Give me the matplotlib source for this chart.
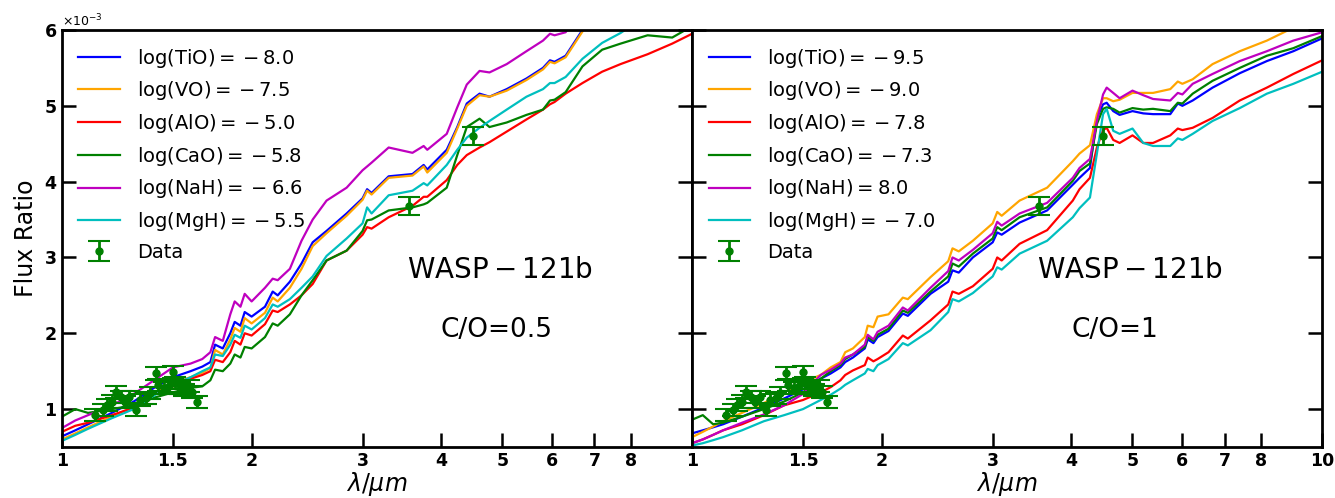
import matplotlib
matplotlib.use("Agg")
import matplotlib.pyplot as plt
import numpy as np

# ---- left panel, C/O = 0.5 (flux ratio in units of 1e-3) ----
wl_a = [1.0, 1.05, 1.1, 1.2, 1.3, 1.4, 1.5, 1.6, 1.67, 1.72, 1.75, 1.8, 1.85, 1.88,
        1.92, 1.95, 2.0, 2.1, 2.16, 2.2, 2.3, 2.4, 2.5, 2.63, 2.83, 3.0, 3.05, 3.1,
        3.3, 3.6, 3.75, 3.8, 4.08, 4.24, 4.39, 4.6, 4.77, 5.08, 5.46, 5.8, 5.95,
        6.05, 6.3, 6.7, 7.2, 7.7, 8.5, 9.3, 10.0]
tio_a = [0.64, 0.72, 0.80, 0.95, 1.10, 1.28, 1.42, 1.50, 1.56, 1.62, 1.85, 1.80, 2.00, 2.15,
         2.10, 2.28, 2.22, 2.35, 2.55, 2.50, 2.68, 2.92, 3.20, 3.35, 3.58, 3.78, 3.90, 3.85,
         4.07, 4.10, 4.22, 4.16, 4.42, 4.72, 5.03, 5.16, 5.12, 5.22, 5.36, 5.50, 5.60,
         5.58, 5.66, 6.00, 6.30, 6.50, 6.80, 7.00, 7.20]
vo_a = [0.60, 0.68, 0.76, 0.90, 1.03, 1.20, 1.35, 1.42, 1.48, 1.54, 1.78, 1.72, 1.92, 2.07,
        2.02, 2.20, 2.13, 2.27, 2.47, 2.42, 2.60, 2.85, 3.15, 3.32, 3.55, 3.76, 3.88, 3.83,
        4.05, 4.08, 4.20, 4.12, 4.38, 4.70, 5.00, 5.14, 5.12, 5.20, 5.34, 5.48, 5.58,
        5.56, 5.64, 5.98, 6.30, 6.50, 6.80, 7.00, 7.20]
alo_a = [0.70, 0.78, 0.82, 0.92, 1.02, 1.20, 1.30, 1.40, 1.45, 1.50, 1.65, 1.62, 1.75, 1.90,
         1.85, 2.00, 1.97, 2.12, 2.30, 2.28, 2.38, 2.50, 2.65, 2.96, 3.09, 3.30, 3.40, 3.38,
         3.53, 3.68, 3.80, 3.80, 4.02, 4.22, 4.35, 4.45, 4.52, 4.66, 4.82, 4.95, 5.02,
         5.05, 5.16, 5.30, 5.45, 5.55, 5.68, 5.82, 5.95]
cao_a = [0.90, 1.00, 0.95, 1.00, 1.05, 1.15, 1.22, 1.28, 1.30, 1.38, 1.52, 1.50, 1.60, 1.72,
         1.68, 1.82, 1.80, 1.95, 2.13, 2.10, 2.25, 2.50, 2.70, 2.96, 3.09, 3.35, 3.49, 3.50,
         3.62, 3.66, 3.70, 3.72, 3.92, 4.35, 4.72, 4.83, 4.72, 4.78, 4.88, 4.95, 5.07,
         5.08, 5.18, 5.52, 5.74, 5.82, 5.93, 5.90, 6.05]
nah_a = [0.75, 0.85, 0.92, 1.05, 1.20, 1.38, 1.55, 1.60, 1.66, 1.75, 1.95, 1.90, 2.25, 2.42,
         2.35, 2.52, 2.42, 2.60, 2.72, 2.70, 2.85, 3.22, 3.50, 3.75, 3.92, 4.15, 4.20, 4.25,
         4.45, 4.38, 4.47, 4.42, 4.63, 4.98, 5.28, 5.46, 5.44, 5.55, 5.72, 5.86, 5.95,
         5.93, 5.97, 6.30, 6.60, 6.80, 7.10, 7.30, 7.50]
mgh_a = [0.58, 0.66, 0.74, 0.88, 1.00, 1.18, 1.32, 1.42, 1.50, 1.55, 1.72, 1.70, 1.85, 1.98,
         1.94, 2.10, 2.05, 2.20, 2.38, 2.35, 2.45, 2.60, 2.75, 3.02, 3.25, 3.45, 3.66, 3.58,
         3.82, 3.88, 3.98, 3.95, 4.22, 4.42, 4.58, 4.71, 4.80, 4.95, 5.12, 5.22, 5.30,
         5.30, 5.38, 5.62, 5.83, 5.96, 6.20, 6.40, 6.60]

# ---- right panel, C/O = 1 ----
wl_b = [1.0, 1.04, 1.08, 1.12, 1.2, 1.3, 1.4, 1.5, 1.6, 1.66, 1.72, 1.75, 1.8, 1.88, 1.9,
        1.94, 1.97, 2.05, 2.16, 2.2, 2.39, 2.55, 2.59, 2.65, 2.79, 3.0, 3.05, 3.1, 3.31,
        3.66, 4.02, 4.12, 4.28, 4.39, 4.49, 4.55, 4.66, 4.77, 5.0, 5.2, 5.39, 5.74, 5.9,
        6.0, 6.23, 6.7, 7.4, 8.17, 9.0, 10.0]
tio_b = [0.68, 0.72, 0.76, 0.80, 0.90, 1.02, 1.14, 1.26, 1.40, 1.47, 1.55, 1.62, 1.68, 1.80, 1.92,
         1.87, 1.95, 2.03, 2.26, 2.23, 2.52, 2.68, 2.83, 2.80, 3.00, 3.20, 3.33, 3.30, 3.46,
         3.62, 3.96, 4.05, 4.18, 4.84, 5.02, 5.04, 4.93, 4.88, 4.93, 4.90, 4.89, 4.89, 5.03,
         5.00, 5.07, 5.24, 5.43, 5.59, 5.72, 5.89]
vo_b = [0.63, 0.70, 0.77, 0.84, 0.95, 1.08, 1.22, 1.35, 1.45, 1.55, 1.62, 1.75, 1.80, 1.95, 2.10,
        2.08, 2.22, 2.25, 2.47, 2.45, 2.74, 2.95, 3.12, 3.08, 3.22, 3.45, 3.60, 3.55, 3.75,
        3.92, 4.27, 4.37, 4.48, 4.89, 5.10, 5.10, 5.06, 5.08, 5.17, 5.17, 5.17, 5.22, 5.32,
        5.29, 5.35, 5.55, 5.72, 5.86, 6.03, 6.20]
alo_b = [0.55, 0.60, 0.66, 0.72, 0.80, 0.92, 1.05, 1.12, 1.22, 1.29, 1.38, 1.45, 1.51, 1.58, 1.68,
         1.63, 1.66, 1.75, 1.97, 1.93, 2.17, 2.38, 2.55, 2.52, 2.62, 2.85, 3.00, 2.96, 3.18,
         3.36, 3.75, 3.90, 4.05, 4.45, 4.68, 4.71, 4.55, 4.51, 4.61, 4.51, 4.51, 4.61, 4.70,
         4.68, 4.71, 4.84, 5.07, 5.24, 5.42, 5.60]
cao_b = [0.86, 0.92, 0.80, 0.82, 0.90, 1.00, 1.10, 1.22, 1.40, 1.50, 1.58, 1.66, 1.72, 1.82, 1.95,
         1.90, 1.98, 2.06, 2.30, 2.27, 2.55, 2.75, 2.92, 2.88, 3.05, 3.25, 3.40, 3.36, 3.53,
         3.66, 4.01, 4.14, 4.24, 4.76, 4.96, 4.98, 4.96, 4.91, 4.97, 4.95, 4.96, 4.93, 5.04,
         5.03, 5.16, 5.33, 5.50, 5.66, 5.76, 5.92]
nah_b = [0.55, 0.60, 0.66, 0.72, 0.82, 0.93, 1.05, 1.20, 1.45, 1.52, 1.60, 1.68, 1.72, 1.85, 1.98,
         1.92, 2.02, 2.10, 2.34, 2.30, 2.60, 2.82, 3.00, 2.96, 3.10, 3.32, 3.47, 3.42, 3.58,
         3.72, 4.05, 4.18, 4.30, 4.80, 5.15, 5.24, 5.17, 5.10, 5.20, 5.14, 5.09, 5.07, 5.17,
         5.15, 5.29, 5.42, 5.59, 5.72, 5.86, 5.97]
mgh_b = [0.52, 0.55, 0.59, 0.63, 0.72, 0.84, 0.92, 1.00, 1.12, 1.19, 1.27, 1.32, 1.38, 1.47, 1.53,
         1.50, 1.58, 1.66, 1.87, 1.84, 2.04, 2.28, 2.45, 2.42, 2.53, 2.75, 2.87, 2.84, 3.05,
         3.22, 3.53, 3.65, 3.79, 4.37, 4.89, 4.96, 4.67, 4.63, 4.70, 4.51, 4.47, 4.47, 4.57,
         4.55, 4.63, 4.80, 4.97, 5.16, 5.29, 5.45]

# ---- observed data (WFC3 + Spitzer) ----
obs_wl = [1.13, 1.16, 1.18, 1.20, 1.22, 1.24, 1.26, 1.28, 1.31, 1.33, 1.36, 1.38, 1.41,
          1.42, 1.45, 1.48, 1.50, 1.51, 1.54, 1.56, 1.59, 1.61, 1.64, 3.55, 4.49]
obs_fr = [0.92, 0.99, 1.05, 1.10, 1.22, 1.16, 1.09, 1.16, 0.99, 1.12, 1.15, 1.21, 1.47,
          1.32, 1.28, 1.30, 1.49, 1.34, 1.28, 1.25, 1.30, 1.22, 1.09, 3.68, 4.60]
obs_err = [0.08, 0.08, 0.08, 0.08, 0.08, 0.08, 0.08, 0.08, 0.08, 0.08, 0.08, 0.08, 0.08,
           0.08, 0.08, 0.08, 0.08, 0.08, 0.08, 0.08, 0.08, 0.08, 0.08, 0.12, 0.12]

labels_a = [r'$\log(\rm{TiO}) = {}-8.0$', r'$\log(\rm{VO}) = {}-7.5$', r'$\log(\rm{AlO}) = {}-5.0$',
            r'$\log(\rm{CaO}) = {}-5.8$', r'$\log(\rm{NaH}) = {}-6.6$', r'$\log(\rm{MgH}) = {}-5.5$']
labels_b = [r'$\log(\rm{TiO}) = {}-9.5$', r'$\log(\rm{VO}) = {}-9.0$', r'$\log(\rm{AlO}) = {}-7.8$',
            r'$\log(\rm{CaO}) = {}-7.3$', r'$\log(\rm{NaH}) = 8.0$', r'$\log(\rm{MgH}) = {}-7.0$']
colors = ['b', 'orange', 'r', 'g', 'm', 'c']

xticks = [1, 1.5, 2, 3, 4, 5, 6, 7, 8, 10]
xticklabels = ['1', '1.5', '2', '3', '4', '5', '6', '7', '8', '10']

fig = plt.figure(figsize=(13.35, 4.98), dpi=100)
ax1 = fig.add_axes([0.0464, 0.1024, 0.472, 0.8374])
ax2 = fig.add_axes([0.5184, 0.1024, 0.472, 0.8374], sharey=ax1)

panels = [
    (ax1, wl_a, [tio_a, vo_a, alo_a, cao_a, nah_a, mgh_a], labels_a, 'C/O=0.5', 0.689, xticks[:-1], xticklabels[:-1]),
    (ax2, wl_b, [tio_b, vo_b, alo_b, cao_b, nah_b, mgh_b], labels_b, 'C/O=1', 0.671, xticks, xticklabels),
]

for ax, wl, models, labels, co, cox, xt, xtl in panels:
    for fr, lab, col in zip(models, labels, colors):
        ax.plot(wl, np.array(fr) * 1e-3, color=col, lw=1.6, label=lab)
    ax.errorbar(obs_wl, np.array(obs_fr) * 1e-3, yerr=np.array(obs_err) * 1e-3,
                fmt='o', color='g', ms=5, elinewidth=2, capsize=8, capthick=1.5,
                label='Data')
    ax.set_xscale('log')
    ax.set_xlim(1, 10)
    ax.set_ylim(0.5e-3, 6e-3)
    ax.xaxis.set_minor_locator(matplotlib.ticker.NullLocator())
    ax.set_xticks(xt)
    ax.set_xticklabels(xtl, fontweight='bold', fontsize=12.5)
    ax.set_xlabel(r'$\lambda/\mu m$', fontsize=17, labelpad=0)
    ax.tick_params(axis='both', which='major', direction='in', length=10, width=1.8,
                   right=True, labelsize=12.5)
    for sp in ax.spines.values():
        sp.set_linewidth(2)
    ax.legend(loc='upper left', frameon=False, fontsize=14, handlelength=2.15,
              handletextpad=0.85, labelspacing=0.5, borderaxespad=0.45)
    ax.text(0.695, 0.424, r'$\rm{WASP-121b}$', transform=ax.transAxes,
            fontsize=20, ha='center', va='center')
    ax.text(cox, 0.28, co, transform=ax.transAxes, fontsize=19, ha='center', va='center')

ax1.set_yticks([1e-3, 2e-3, 3e-3, 4e-3, 5e-3, 6e-3])
fmt = matplotlib.ticker.ScalarFormatter(useMathText=True)
fmt.set_powerlimits((-3, -3))
ax1.yaxis.set_major_formatter(fmt)
ax1.yaxis.get_offset_text().set_fontsize(9)
ax1.set_ylabel('Flux Ratio', fontsize=17)
ax2.tick_params(labelleft=False)

fig.canvas.draw()
for lab in ax1.get_yticklabels():
    lab.set_fontweight('bold')

fig.savefig('out.png', dpi=100)
